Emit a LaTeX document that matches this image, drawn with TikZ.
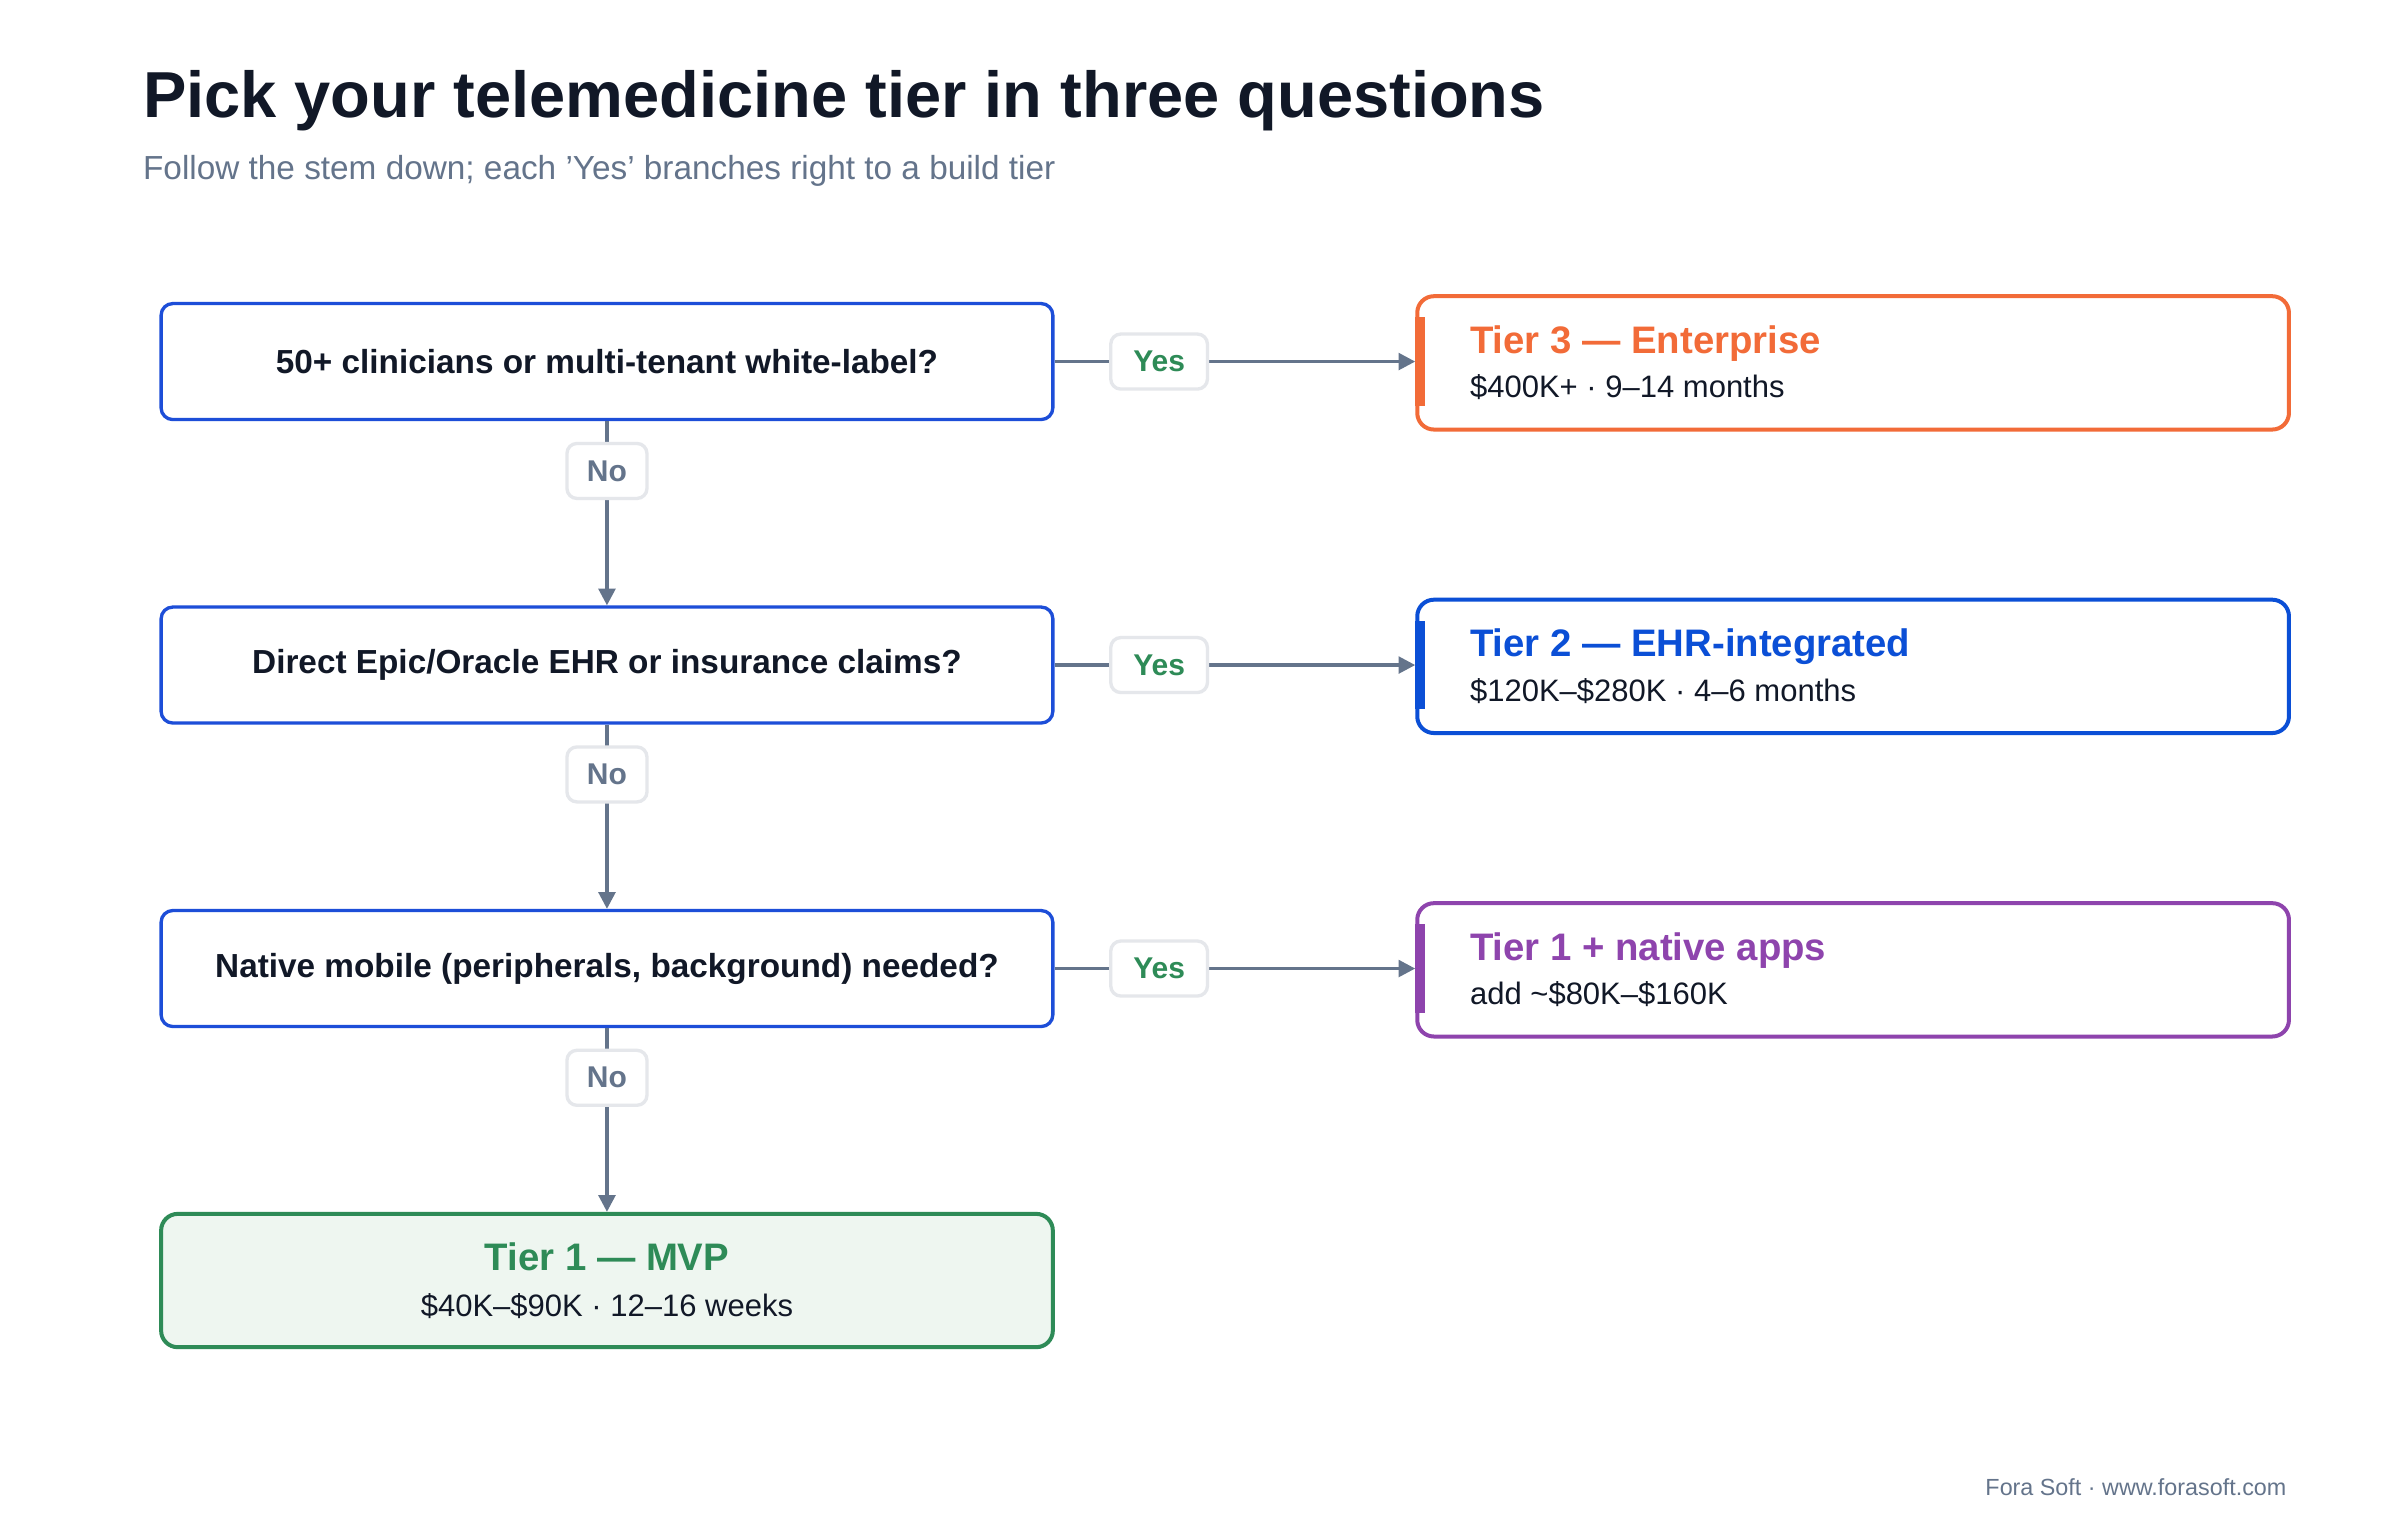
\documentclass[tikz,border=0pt]{standalone}
\usepackage{fontspec}
\setmainfont{Liberation Sans}
\usetikzlibrary{arrows.meta}
\definecolor{ink}{HTML}{111827}
\definecolor{mute}{HTML}{64748B}
\definecolor{qblue}{HTML}{1D4ED8}
\definecolor{t3}{HTML}{F26B38}
\definecolor{t2}{HTML}{0B4FD6}
\definecolor{tp}{HTML}{8E44AD}
\definecolor{tg}{HTML}{2E8B57}
\definecolor{tgf}{HTML}{EEF6F0}
\definecolor{lab}{HTML}{E5E7EB}
\begin{document}
\begin{tikzpicture}[x=0.4645pt,y=-0.4645pt,
 q/.style={draw=qblue,line width=1pt,rounded corners=3.5pt,minimum width=267.5pt,minimum height=34.8pt,font=\bfseries\fontsize{10}{12}\selectfont,text=ink},
 tier/.style={draw=#1,line width=1.2pt,rounded corners=5pt,minimum width=261.5pt,minimum height=40pt,anchor=north west},
 yes/.style={draw=lab,fill=white,rounded corners=3pt,minimum width=29pt,minimum height=16.5pt,font=\bfseries\fontsize{9}{10}\selectfont,text=tg,inner sep=0pt},
 no/.style={draw=lab,fill=white,rounded corners=3pt,minimum width=24pt,minimum height=16.5pt,font=\bfseries\fontsize{9}{10}\selectfont,text=mute,inner sep=0pt},
 arr/.style={draw=mute,line width=1pt,-{Triangle[length=5pt,width=5pt]}}]
\useasboundingbox[fill=white] (0,0) rectangle (1550,982);
\node[anchor=base west,font=\bfseries\fontsize{19.5}{22}\selectfont,text=ink,inner sep=0] (title) at (92,76) {Pick your telemedicine tier in three questions};
\node[anchor=base west,font=\fontsize{10}{12}\selectfont,text=mute,inner sep=0] (sub) at (92,116) {Follow the stem down; each 'Yes' branches right to a build tier};
\node[q] (q1) at (392,233.5) {50+ clinicians or multi-tenant white-label?};
\node[q] (q2) at (392,429.5) {Direct Epic/Oracle EHR or insurance claims?};
\node[q] (q3) at (392,625.5) {Native mobile (peripherals, background) needed?};
\node[draw=tg,fill=tgf,line width=1.2pt,rounded corners=5pt,minimum width=267.5pt,minimum height=40pt,align=center] (t1) at (392,827) {{\bfseries\fontsize{11.5}{14}\selectfont\color{tg}Tier 1 — MVP}\\[2pt]{\fontsize{9.3}{11}\selectfont\color{ink}\$40K–\$90K · 12–16 weeks}};
\foreach \n/\y/\c/\h/\s in {r3/190/t3/Tier 3 — Enterprise/\$400K+ · 9–14 months, r2/386/t2/Tier 2 — EHR-integrated/\$120K–\$280K · 4–6 months, rp/582/tp/Tier 1 + native apps/add \textasciitilde\$80K–\$160K}{
 \node[tier=\c] (\n) at (914,\y) {};
 \fill[\c] (914,\y+15) rectangle (920,\y+72);
 \node[anchor=base west,inner sep=0,font=\bfseries\fontsize{11.5}{14}\selectfont,text=\c] (\n h) at (949,\y+38) {\h};
 \node[anchor=base west,inner sep=0,font=\fontsize{9.3}{11}\selectfont,text=ink] (\n s) at (949,\y+67) {\s};
}
\draw[arr] (q1.east) -- (q1.east-|r3.west) node[yes,pos=0.29] {Yes};
\draw[arr] (q2.east) -- (q2.east-|r2.west) node[yes,pos=0.29] {Yes};
\draw[arr] (q3.east) -- (q3.east-|rp.west) node[yes,pos=0.29] {Yes};
\draw[arr] (q1.south) -- (q2.north) node[no,pos=0.27] {No};
\draw[arr] (q2.south) -- (q3.north) node[no,pos=0.27] {No};
\draw[arr] (q3.south) -- (t1.north) node[no,pos=0.27] {No};
\node[anchor=base east,inner sep=0,font=\fontsize{7}{8}\selectfont,text=mute] (foot) at (1477,966) {Fora Soft · www.forasoft.com};
\end{tikzpicture}
\end{document}
